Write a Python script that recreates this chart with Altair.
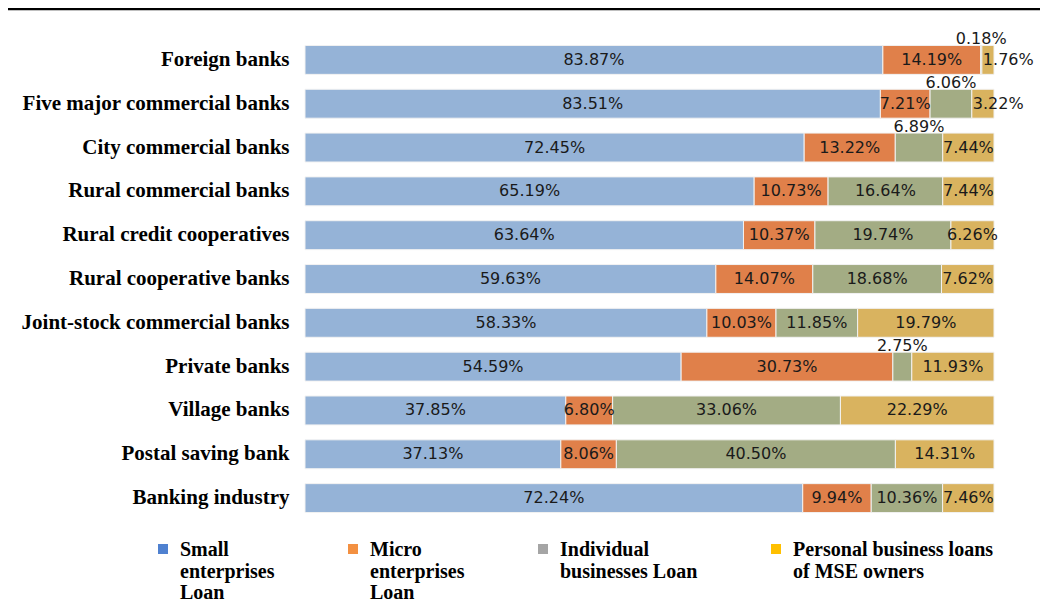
import altair as alt
import pandas as pd

categories = [
    "Foreign banks",
    "Five major commercial banks",
    "City commercial banks",
    "Rural commercial banks",
    "Rural credit cooperatives",
    "Rural cooperative banks",
    "Joint-stock commercial banks",
    "Private banks",
    "Village banks",
    "Postal saving bank",
    "Banking industry",
]
small_loan = [83.87, 83.51, 72.45, 65.19, 63.64, 59.63, 58.33, 54.59, 37.85, 37.13, 72.24]
micro_loan = [14.19, 7.21, 13.22, 10.73, 10.37, 14.07, 10.03, 30.73, 6.80, 8.06, 9.94]
individual_loan = [0.18, 6.06, 6.89, 16.64, 19.74, 18.68, 11.85, 2.75, 33.06, 40.50, 10.36]
personal_loan = [1.76, 3.22, 7.44, 7.44, 6.26, 7.62, 19.79, 11.93, 22.29, 14.31, 7.46]

series_names = ["Small", "Micro", "Individual", "Personal"]
legend_labels = [
    "Small|enterprises|Loan",
    "Micro|enterprises|Loan",
    "Individual|businesses Loan| ",
    "Personal business loans| of MSE owners| ",
]
bar_colors = ["#95B3D7", "#E0804A", "#A3AC84", "#D9B35F"]
legend_colors = ["#4F81D0", "#F39041", "#A5A5A5", "#FFC000"]

series_values = [small_loan, micro_loan, individual_loan, personal_loan]

rows = []
for i, cat in enumerate(categories):
    start = 0.0
    for s, vals in zip(series_names, series_values):
        v = vals[i]
        if s == "Individual" and v < 8:
            place = "above"
        elif s == "Personal" and v < 4:
            place = "left"
        else:
            place = "center"
        rows.append({
            "category": cat,
            "series": s,
            "value": v,
            "start": start,
            "end": start + v,
            "mid": start + v / 2,
            "label": f"{v:.2f}%",
            "place": place,
        })
        start += v
df = pd.DataFrame(rows)

legend_df = pd.DataFrame({"legend": legend_labels, "category": [categories[0]] * 4, "x0": [0] * 4})

y_enc = alt.Y(
    "category:N",
    sort=categories,
    scale=alt.Scale(paddingInner=0.34, paddingOuter=0.17),
    axis=alt.Axis(
        title=None, domain=False, ticks=False, labelPadding=16,
        labelFont="Liberation Serif", labelFontWeight="bold", labelFontSize=21,
        labelColor="#000000", labelLimit=400,
    ),
)
x_scale = alt.Scale(domain=[0, 100], nice=False)

bars = alt.Chart(df).mark_bar(stroke="#F2F2F2", strokeWidth=1).encode(
    x=alt.X("start:Q", scale=x_scale, axis=None),
    x2="end:Q",
    y=y_enc,
    color=alt.Color("series:N", scale=alt.Scale(domain=series_names, range=bar_colors), legend=None),
)

text_style = dict(font="DejaVu Sans", fontSize=16, color="#1A1A1A")

center_txt = alt.Chart(df[df.place == "center"]).mark_text(align="center", baseline="middle", **text_style).encode(
    x=alt.X("mid:Q", scale=x_scale), y=alt.Y("category:N", sort=categories), text="label:N"
)
left_txt = alt.Chart(df[df.place == "left"]).mark_text(align="left", baseline="middle", dx=1, **text_style).encode(
    x=alt.X("start:Q", scale=x_scale), y=alt.Y("category:N", sort=categories), text="label:N"
)
above_txt = alt.Chart(df[df.place == "above"]).mark_text(align="center", baseline="middle", dy=-21, **text_style).encode(
    x=alt.X("mid:Q", scale=x_scale), y=alt.Y("category:N", sort=categories), text="label:N"
)

legend_layer = alt.Chart(legend_df).mark_square(size=0).encode(
    x=alt.X("x0:Q", scale=x_scale),
    y=alt.Y("category:N", sort=categories),
    color=alt.Color(
        "legend:N",
        scale=alt.Scale(domain=legend_labels, range=legend_colors),
        legend=alt.Legend(
            title=None, orient="none", legendX=-152, legendY=492,
            direction="horizontal", columns=4, columnPadding=68,
            symbolType="M-1,0.8H1V2.8H-1Z", symbolSize=100, symbolOpacity=1, symbolStrokeWidth=0,
            labelFont="Liberation Serif", labelFontWeight="bold", labelFontSize=20,
            labelColor="#000000", labelOffset=7, labelLimit=400, labelBaseline="top",
            labelExpr="split(datum.label, '|')",
        ),
    ),
)

top_line = alt.Chart(pd.DataFrame({"a": [0]})).mark_rule(color="#000000", strokeWidth=2.5).encode(
    x=alt.value(-297), x2=alt.value(735), y=alt.value(-29)
)

chart = alt.layer(bars, center_txt, left_txt, above_txt, legend_layer, top_line).resolve_scale(
    color="independent"
).properties(
    width=689, height=482,
    background="#FFFFFF",
    autosize=alt.AutoSizeParams(type="none"),
    padding={"left": 297, "top": 30, "right": 50, "bottom": 79},
).configure(
    style={"guide-label": {"lineHeight": 21.5}}
).configure_view(strokeWidth=0, stroke="transparent")

chart.save("out.html", embed_options={"renderer": "svg", "actions": False})
